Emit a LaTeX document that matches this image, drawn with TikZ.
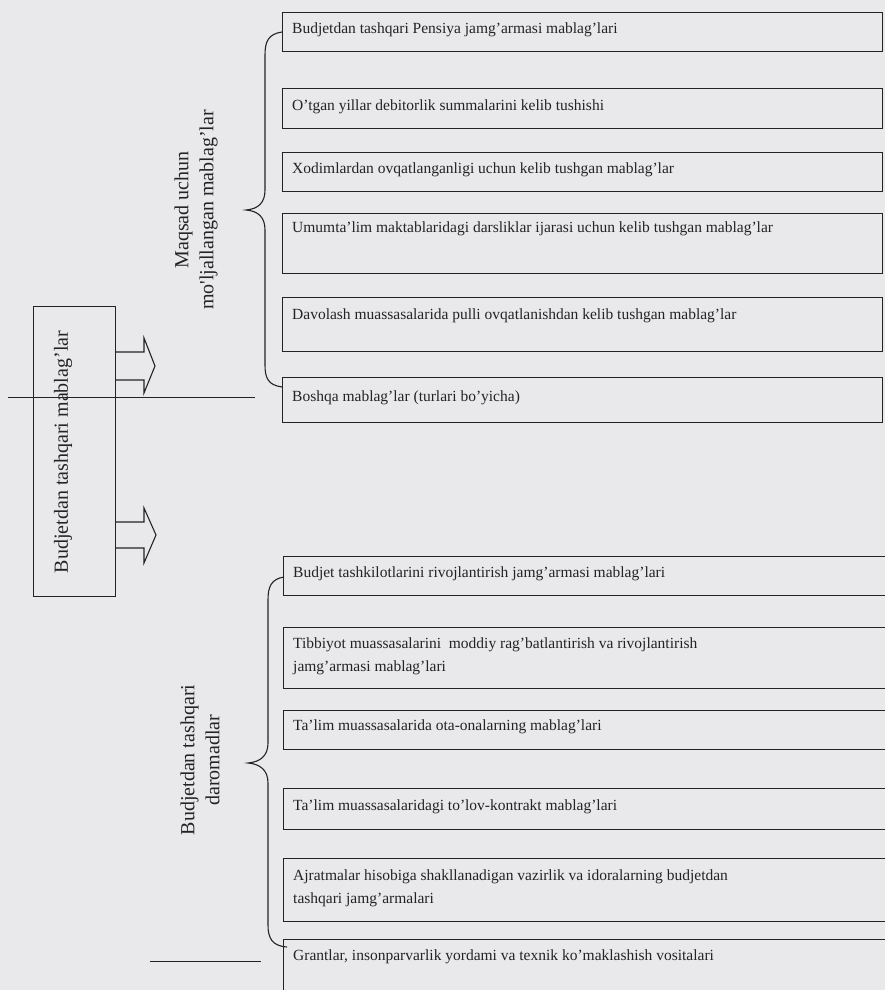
\documentclass[tikz,border=0pt]{standalone}
\usepackage{fontspec}
\setmainfont{Liberation Serif}
\definecolor{paper}{RGB}{233,233,235}
\definecolor{ink}{RGB}{35,35,38}
\begin{document}
\begin{tikzpicture}[x=1pt,y=-1pt,
  box/.style={draw=ink, line width=1.1pt, inner sep=0pt, anchor=north west},
  txt/.style={inner sep=0pt, font=\fontsize{15.5}{23}\selectfont, align=left, text=ink},
  big/.style={inner sep=0pt, font=\fontsize{20}{25}\selectfont, align=center, rotate=90, text=ink},
  ln/.style={draw=ink, line width=1.1pt}]
\fill[paper] (0,0) rectangle (885,990);
\useasboundingbox (0,0) rectangle (885,990);
\clip (0,0) rectangle (885,990);

% top group boxes
\node[box, minimum width=600pt, minimum height=39pt] (t1) at (282,12) {};
\node[box, minimum width=600pt, minimum height=40pt] (t2) at (282,88) {};
\node[box, minimum width=600pt, minimum height=39pt] (t3) at (282,152) {};
\node[box, minimum width=600pt, minimum height=60pt] (t4) at (282,213) {};
\node[box, minimum width=600pt, minimum height=54pt] (t5) at (282,297) {};
\node[box, minimum width=600pt, minimum height=45pt] (t6) at (282,377) {};

\node[txt, anchor=mid west] (t1x) at (292,31) {Budjetdan tashqari Pensiya jamg’armasi mablag’lari};
\node[txt, anchor=mid west] (t2x) at (292,108) {O’tgan yillar debitorlik summalarini kelib tushishi};
\node[txt, anchor=mid west] (t3x) at (292,171) {Xodimlardan ovqatlanganligi uchun kelib tushgan mablag’lar};
\node[txt, anchor=mid west] (t4x) at (292,230) {Umumta’lim maktablaridagi darsliklar ijarasi uchun kelib tushgan mablag’lar};
\node[txt, anchor=mid west] (t5x) at (292,317) {Davolash muassasalarida pulli ovqatlanishdan kelib tushgan mablag’lar};
\node[txt, anchor=mid west] (t6x) at (292,399) {Boshqa mablag’lar (turlari bo’yicha)};

% bottom group boxes
\node[box, minimum width=620pt, minimum height=39pt] (b1) at (283,556) {};
\node[box, minimum width=620pt, minimum height=61pt] (b2) at (283,627) {};
\node[box, minimum width=620pt, minimum height=39pt] (b3) at (283,710) {};
\node[box, minimum width=620pt, minimum height=41pt] (b4) at (283,788) {};
\node[box, minimum width=620pt, minimum height=63pt] (b5) at (283,858) {};
\node[box, minimum width=620pt, minimum height=70pt] (b6) at (283,939) {};

\node[txt, anchor=mid west] (b1x) at (293,575) {Budjet tashkilotlarini rivojlantirish jamg’armasi mablag’lari};
\node[txt, anchor=west] (b2x) at (293,656.5) {Tibbiyot muassasalarini\ \ moddiy rag’batlantirish va rivojlantirish\\jamg’armasi mablag’lari};
\node[txt, anchor=mid west] (b3x) at (293,728) {Ta’lim muassasalarida ota-onalarning mablag’lari};
\node[txt, anchor=mid west] (b4x) at (293,808) {Ta’lim muassasalaridagi to’lov-kontrakt mablag’lari};
\node[txt, anchor=west] (b5x) at (293,888.5) {Ajratmalar hisobiga shakllanadigan vazirlik va idoralarning budjetdan\\tashqari jamg’armalari};
\node[txt, anchor=mid west] (b6x) at (293,958) {Grantlar, insonparvarlik yordami va texnik ko’maklashish vositalari};

% left box
\node[box, minimum width=82pt, minimum height=290pt] (lb) at (33,306) {};
\node[big] (lbx) at (63,452) {Budjetdan tashqari mablag’lar};

% group labels
\node[big] (gl1) at (196,210) {Maqsad uchun\\mo\textquotesingle ljallangan mablag’lar};
\node[big] (gl2) at (200,760) {Budjetdan tashqari\\daromadlar};

% braces
\coordinate (u1) at (282,32);
\coordinate (ut) at (246,210);
\coordinate (u2) at (282,387);
\draw[ln] (u1) .. controls (268,34) and (265,42) .. (265,55) -- (265,190)
  .. controls (265,203) and (258,209) .. (ut)
  .. controls (258,211) and (265,217) .. (265,230) -- (265,365)
  .. controls (265,378) and (268,385) .. (u2);
\coordinate (l1) at (284,577);
\coordinate (lt) at (248,763);
\coordinate (l2) at (287,947);
\draw[ln] (l1) .. controls (271,579) and (268,587) .. (268,600) -- (268,743)
  .. controls (268,756) and (260,762) .. (lt)
  .. controls (260,764) and (268,770) .. (268,783) -- (268,925)
  .. controls (268,938) and (272,946) .. (l2);

% block arrows
\draw[ln, line join=miter] (lb.east |- 0,352) -- (144,352) -- (144,338) -- (155,366)
  -- (144,393) -- (144,380) -- (lb.east |- 0,380);
\draw[ln, line join=miter] (lb.east |- 0,522) -- (144,522) -- (144,508) -- (156,535)
  -- (144,563) -- (144,548) -- (lb.east |- 0,548);

% rules
\coordinate (r1a) at (8,397);
\coordinate (r1b) at (255,397);
\draw[ink, line width=0.9pt] (r1a) -- (r1b);
\coordinate (r2a) at (150,961);
\coordinate (r2b) at (261,961);
\draw[ink, line width=0.9pt] (r2a) -- (r2b);
\end{tikzpicture}
\end{document}
